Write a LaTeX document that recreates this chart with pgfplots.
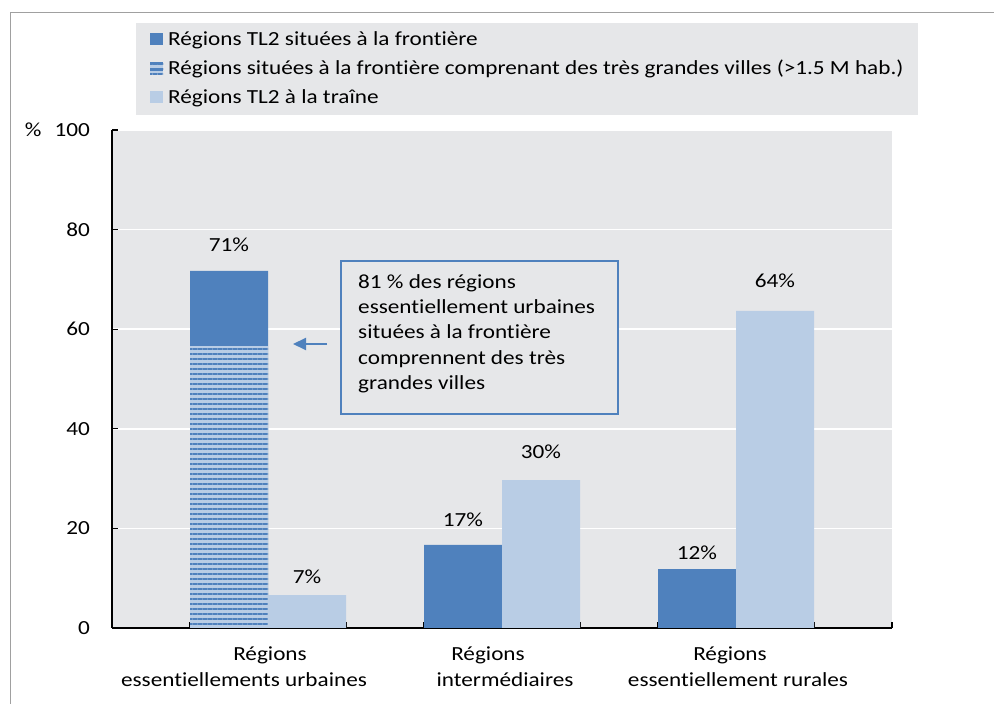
\documentclass[border=0pt]{standalone}
\usepackage{fontspec}
\setmainfont{Carlito}[FakeStretch=1.16, Ligatures=NoCommon]
\usepackage{pgfplots}
\pgfplotsset{compat=1.18}
\usepackage{pgfplotstable}
\usetikzlibrary{patterns.meta,arrows.meta}
\definecolor{dblue}{RGB}{79,129,189}
\definecolor{lblue}{RGB}{185,205,229}
\definecolor{bggray}{RGB}{230,231,233}
\definecolor{framegray}{RGB}{160,160,160}
\newcommand{\ff}{\fontsize{20pt}{26pt}\selectfont}

\pgfplotstableread{
x y lab off
1.5 71.7 71 19
4.5 16.7 17 18
7.5 11.8 12 10
}\darkdata
\pgfplotstableread{
x y
1.5 56.6
}\hatchdata
\pgfplotstableread{
x y lab off
2.5 6.6 7 12
5.5 29.7 30 22
8.5 63.7 64 23
}\lightdata

\begin{document}
\ff
\begin{tikzpicture}
\path[use as bounding box] (0,0) rectangle (994pt,704pt);
\draw[framegray, line width=1pt] (10pt,0pt) -- (10pt,691pt) -- (994pt,691pt);
\begin{axis}[
  at={(112pt,76pt)}, anchor=south west,
  width=780pt, height=498pt, scale only axis,
  xmin=0, xmax=10, ymin=0, ymax=100,
  axis x line*=bottom, axis y line*=left,
  axis line style={black, line width=1.3pt},
  axis background/.style={fill=bggray},
  ytick={0,20,40,60,80,100},
  yticklabels={0,20,40,60,80,{\%\hspace{13pt}100}},
  xtick={0,1,...,10},
  xticklabels={},
  extra x ticks={2,5,8},
  extra x tick labels={{\hspace*{4pt}Régions\\essentiellements urbaines\hspace*{48pt}},{Régions\hspace*{28pt}\\\hspace*{6pt}intermédiaires},{Régions\hspace*{12pt}\\\hspace*{4pt}essentiellement rurales}},
  extra x tick style={major tick length=0pt, tick label style={align=center, anchor=north, inner sep=0pt, yshift=-19pt, font=\ff}},
  tick align=inside,
  major tick length=6pt,
  tick style={black, line width=1.2pt},
  y tick label style={anchor=east, inner sep=0pt, xshift=-22pt, font=\ff},
  ymajorgrids, grid style={white, line width=1.5pt},
  legend style={at={(axis description cs:0.0308,1.2149)}, anchor=north west,
    fill=bggray, draw=none, inner xsep=14pt, inner ysep=7pt, row sep=9pt,
    font=\ff, nodes={inner sep=0pt, text height=15pt, text depth=5pt},
    /tikz/every odd column/.append style={column sep=5pt}},
  legend cell align=left,
]
\addplot[ybar, bar width=1, bar shift=0pt, fill=dblue, draw=none,
  point meta=explicit symbolic,
  visualization depends on={\thisrow{off} \as \myoff},
  nodes near coords={\pgfplotspointmeta\%},
  nodes near coords style={anchor=base, inner sep=0pt, yshift=\myoff, font=\ff, black},
  legend image code/.code={\fill[dblue] (0pt,-5pt) rectangle (13pt,7.5pt);}
] table[x=x,y=y,meta=lab] {\darkdata};
\addlegendentry{Régions TL2 situées à la frontière}
\addplot[ybar, bar width=1, bar shift=0pt, fill=lblue, draw=none,
  postaction={pattern={Lines[angle=0,distance=5pt,line width=2pt]}, pattern color=dblue},
  legend image code/.code={\fill[lblue] (0pt,-5pt) rectangle (13pt,7.5pt);
    \fill[dblue] (0pt,5pt) rectangle (13pt,7.5pt);
    \fill[dblue] (0pt,-1.5pt) rectangle (13pt,1.5pt);}
] table[x=x,y=y] {\hatchdata};
\addlegendentry{Régions situées à la frontière comprenant des très grandes villes (>1.5 M hab.)}
\addplot[ybar, bar width=1, bar shift=0pt, fill=lblue, draw=none,
  point meta=explicit symbolic,
  visualization depends on={\thisrow{off} \as \myoff},
  nodes near coords={\pgfplotspointmeta\%},
  nodes near coords style={anchor=base, inner sep=0pt, yshift=\myoff, font=\ff, black},
  legend image code/.code={\fill[lblue] (0pt,-5pt) rectangle (13pt,7.5pt);}
] table[x=x,y=y,meta=lab] {\lightdata};
\addlegendentry{Régions TL2 à la traîne}
\end{axis}
\draw[dblue, line width=1.3pt, fill=bggray] (341pt,290pt) rectangle (618pt,443pt);
\node[anchor=base west, inner sep=0pt] at (358pt,415pt) {81 \% des régions};
\node[anchor=base west, inner sep=0pt] at (358pt,390pt) {essentiellement urbaines};
\node[anchor=base west, inner sep=0pt] at (358pt,365pt) {situées à la frontière};
\node[anchor=base west, inner sep=0pt] at (358pt,339pt) {comprennent des très};
\node[anchor=base west, inner sep=0pt] at (358pt,314pt) {grandes villes};
\draw[dblue, line width=2pt, -{Triangle[length=13pt,width=12pt]}] (327pt,360pt) -- (293pt,360pt);
\end{tikzpicture}
\end{document}
